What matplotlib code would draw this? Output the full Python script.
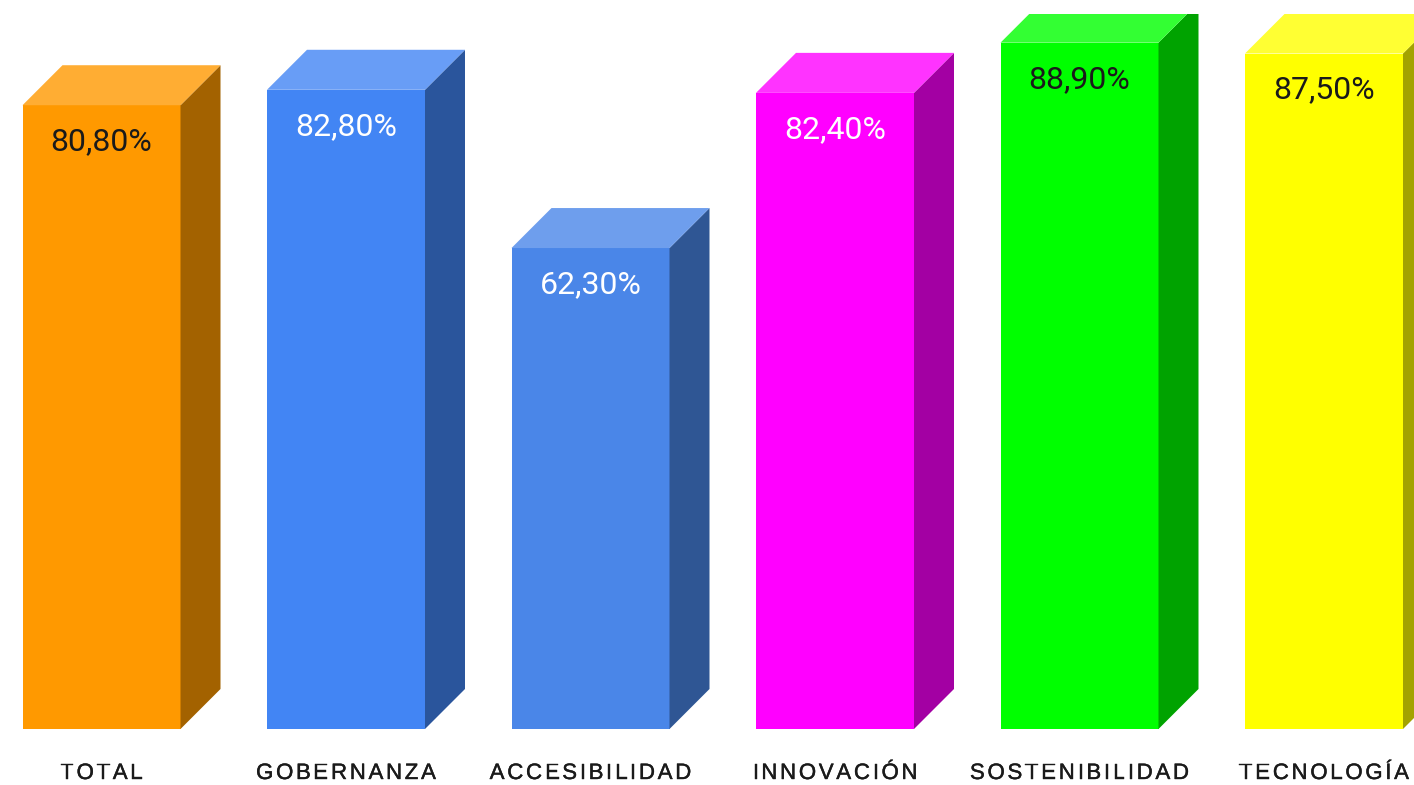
import numpy as np
import matplotlib
matplotlib.use("Agg")
import matplotlib.pyplot as plt
import matplotlib.patheffects as pe
from matplotlib.patches import Polygon
from matplotlib.transforms import ScaledTranslation
from matplotlib.font_manager import FontProperties, findfont
from matplotlib.ft2font import FT2Font
from matplotlib.colors import to_rgb

categories = ["TOTAL", "GOBERNANZA", "ACCESIBILIDAD", "INNOVACIÓN", "SOSTENIBILIDAD", "TECNOLOGÍA"]
values = [80.8, 82.8, 62.3, 82.4, 88.9, 87.5]
value_labels = ["80,80%", "82,80%", "62,30%", "82,40%", "88,90%", "87,50%"]
colors = ["#FF9900", "#4285F4", "#4A86E8", "#FF00FF", "#00FF00", "#FFFF00"]
label_colors = ["#1a1a1a", "white", "white", "white", "#1a1a1a", "#1a1a1a"]

# geometry (data units: 1 x unit = spacing between bars, y in %)
W, H = 1414, 785
px_per_pct = 7.72
spacing_px = 244.5
bar_w = 158 / spacing_px
dx = 40 / spacing_px
dy = 40 / px_per_pct


def shade(c, f):
    r, g, b = to_rgb(c)
    return (r * f, g * f, b * f)


def tint(c, f):
    r, g, b = to_rgb(c)
    return (r + (1 - r) * f, g + (1 - g) * f, b + (1 - b) * f)


fig = plt.figure(figsize=(W / 100, H / 100), dpi=100)
ax = fig.add_axes([0, 56 / H, 1, (729 - 14) / H])
ax.set_xlim(-101.5 / spacing_px, (W - 101.5) / spacing_px)
ax.set_ylim(0, (729 - 14) / px_per_pct)
ax.axis("off")

x = np.arange(len(categories))
ax.bar(x, values, width=bar_w, color=colors, linewidth=0, zorder=2)

for xi, v, c in zip(x, values, colors):
    l, r = xi - bar_w / 2, xi + bar_w / 2
    side = Polygon([(r, 0), (r + dx, dy), (r + dx, v + dy), (r, v)],
                   closed=True, facecolor=shade(c, 0.64), edgecolor="none", zorder=2)
    top = Polygon([(l, v), (l + dx, v + dy), (r + dx, v + dy), (r, v)],
                  closed=True, facecolor=tint(c, 0.2), edgecolor="none", zorder=2)
    ax.add_patch(side)
    ax.add_patch(top)

for xi, v, s, tc in zip(x, values, value_labels, label_colors):
    ax.text(xi, v - 45 / px_per_pct, s, ha="center", va="baseline",
            fontsize=23, family="Roboto", color=tc, zorder=3)

# category labels with letter spacing
prop = FontProperties(family="Liberation Sans", size=16)
font = FT2Font(findfont(prop))
font.set_size(16, 72)
gap_pt = 2.7 * 72 / 100
heavier = [pe.withStroke(linewidth=0.3, foreground="#1a1a1a")]


def advance(ch):
    g = font.load_char(ord(ch))
    return g.linearHoriAdvance / 65536


y_lab = (729 - 779) / px_per_pct
for xi, lab in zip(x, categories):
    adv = [advance(ch) for ch in lab]
    total = sum(adv) + gap_pt * (len(lab) - 1)
    pos = -total / 2
    for ch, a in zip(lab, adv):
        off = ScaledTranslation((pos + a / 2) / 72, 0, fig.dpi_scale_trans)
        ax.text(xi, y_lab, ch, ha="center", va="baseline", fontproperties=prop,
                color="#1a1a1a", transform=ax.transData + off, clip_on=False,
                path_effects=heavier)
        pos += a + gap_pt

fig.savefig("out.png", dpi=100)
